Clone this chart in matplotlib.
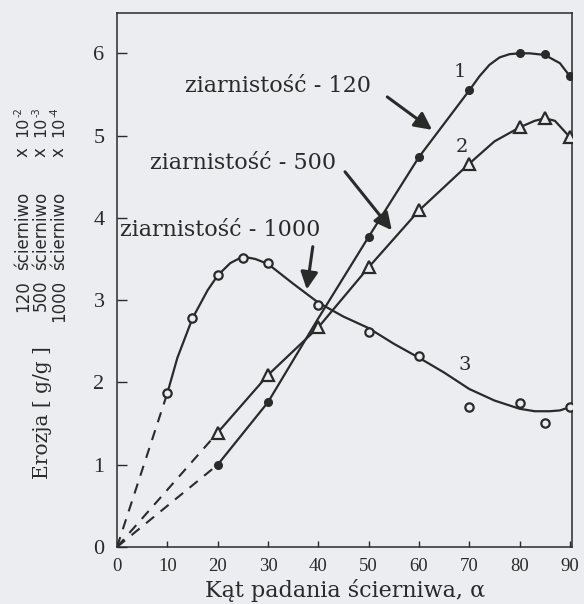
import matplotlib
matplotlib.use("Agg")
import matplotlib.pyplot as plt

# ---- data ----
# curve 1: ziarnistość 120 (filled circles)
x1 = [20, 30, 50, 60, 70, 80, 85, 90]
y1 = [1.00, 1.76, 3.77, 4.74, 5.55, 6.00, 5.99, 5.72]
fit1_x = [20, 30, 40, 50, 60, 70, 72, 74, 76, 78, 80, 82, 85, 88, 90]
fit1_y = [1.00, 1.76, 2.78, 3.77, 4.74, 5.55, 5.72, 5.86, 5.95, 5.99, 6.00, 6.00, 5.98, 5.88, 5.72]

# curve 2: ziarnistość 500 (open triangles)
x2 = [20, 30, 40, 50, 60, 70, 80, 85, 90]
y2 = [1.39, 2.09, 2.67, 3.40, 4.09, 4.66, 5.10, 5.21, 4.98]
fit2_x = [20, 30, 40, 50, 60, 70, 75, 80, 83, 85, 87, 90]
fit2_y = [1.39, 2.09, 2.67, 3.40, 4.09, 4.66, 4.93, 5.10, 5.18, 5.21, 5.18, 4.98]

# curve 3: ziarnistość 1000 (open circles)
x3 = [10, 15, 20, 25, 30, 40, 50, 60, 70, 80, 85, 90]
y3 = [1.87, 2.78, 3.30, 3.51, 3.45, 2.94, 2.61, 2.32, 1.70, 1.75, 1.51, 1.70]
fit3_x = [10, 12, 15, 18, 20, 22.5, 25, 27.5, 30, 35, 40, 45, 50, 55, 60, 65, 70, 75, 80, 83, 86, 88, 90]
fit3_y = [1.87, 2.30, 2.78, 3.12, 3.30, 3.45, 3.53, 3.50, 3.44, 3.20, 2.97, 2.80, 2.66, 2.47, 2.30,
          2.12, 1.92, 1.78, 1.68, 1.65, 1.65, 1.66, 1.70]

xticks = [0, 10, 20, 30, 40, 50, 60, 70, 80, 90]
yticks = [0, 1, 2, 3, 4, 5, 6]

labels = ["ziarnistość - 120", "ziarnistość - 500", "ziarnistość - 1000"]
curve_ids = ["1", "2", "3"]
side_nums = ["120", "500", "1000"]
side_word = "ścierniwo"
side_exps = ["-2", "-3", "-4"]

# ---- style ----
BG = "#ecedf1"
INK = "#2a2a2a"
W, H = 584, 604

fig = plt.figure(figsize=(W / 100, H / 100), dpi=100, facecolor=BG)
ax = fig.add_axes([117 / W, 1 - 547 / H, 455 / W, 534 / H], facecolor=BG)

ax.set_xlim(0, 90.4)
ax.set_ylim(0, 6.49)

# dashed extrapolation to origin
dash = (0, (5, 4))
for xs, ys in ((x1, y1), (x2, y2), (x3, y3)):
    ax.plot([0, xs[0]], [0, ys[0]], color=INK, lw=1.5, linestyle=dash, zorder=2)

# fitted curves
ax.plot(fit1_x, fit1_y, color=INK, lw=1.6, zorder=2)
ax.plot(fit2_x, fit2_y, color=INK, lw=1.6, zorder=2)
ax.plot(fit3_x, fit3_y, color=INK, lw=1.6, zorder=2)

# markers
ax.plot(x1, y1, linestyle="none", marker="o", ms=5.5, mfc=INK, mec=INK, zorder=3)
ax.plot(x2, y2, linestyle="none", marker="^", ms=8, mfc=BG, mec=INK, mew=1.6, zorder=3)
ax.plot(x3, y3, linestyle="none", marker="o", ms=6, mfc=BG, mec=INK, mew=1.6, zorder=3)

# ticks
ax.set_xticks(xticks)
ax.set_yticks(yticks)
ax.tick_params(axis="x", direction="in", length=4, width=1, colors=INK, pad=8)
ax.tick_params(axis="y", direction="in", length=7, width=1, colors=INK, pad=9)
for lab in ax.get_xticklabels():
    lab.set_fontfamily("Liberation Serif")
    lab.set_fontsize(13.5)
for lab in ax.get_yticklabels():
    lab.set_fontfamily("Liberation Serif")
    lab.set_fontsize(16)
for s in ax.spines.values():
    s.set_color(INK)
    s.set_linewidth(1.1)

# axis labels
fig.text(345 / W, 1 - 590 / H, "Kąt padania ścierniwa, α", family="DejaVu Serif",
         fontsize=16, color=INK, ha="center", va="center")
fig.text(42 / W, 1 - 413 / H, "Erozja [ g/g ]", family="DejaVu Serif", fontsize=14.5,
         color=INK, ha="center", va="center", rotation=90)

# annotations with arrows
ann = dict(family="DejaVu Serif", fontsize=16, color=INK, ha="center", va="center")
arrow = dict(arrowstyle="-|>", color=INK, lw=2.2, mutation_scale=26, shrinkA=0, shrinkB=0)
ax.text(32.0, 5.60, labels[0], **ann)
ax.annotate("", xy=(62.6, 5.07), xytext=(53.7, 5.47), arrowprops=arrow)
ax.text(25.0, 4.67, labels[1], **ann)
ax.annotate("", xy=(54.6, 3.85), xytext=(45.3, 4.56), arrowprops=arrow)
ax.text(20.6, 3.85, labels[2], **ann)
ax.annotate("", xy=(37.7, 3.13), xytext=(38.9, 3.65), arrowprops=arrow)

# curve numbers
num = dict(family="DejaVu Serif", fontsize=14, color=INK, ha="center", va="center")
ax.text(68.2, 5.77, curve_ids[0], **num)
ax.text(68.5, 4.86, curve_ids[1], **num)
ax.text(69.1, 2.21, curve_ids[2], **num)

# rotated side notes (each piece placed along the column)
side = dict(rotation=90, rotation_mode="anchor", va="center", family="DejaVu Sans",
            color=INK)
for i in range(3):
    cx = (23 + 18 * i) / W
    fig.text(cx, 1 - 280 / H, side_nums[i], ha="right", fontsize=12, **side)
    fig.text(cx, 1 - 270 / H, side_word, ha="left", fontsize=12, **side)
    fig.text(cx, 1 - 152 / H, "x", ha="center", fontsize=12, **side)
    fig.text(cx, 1 - 137 / H, "10", ha="left", fontsize=11.5, **side)
    fig.text(cx - 4 / W, 1 - 117 / H, side_exps[i], ha="left", fontsize=7, **side)

fig.savefig("out.png", dpi=100, facecolor=BG)
